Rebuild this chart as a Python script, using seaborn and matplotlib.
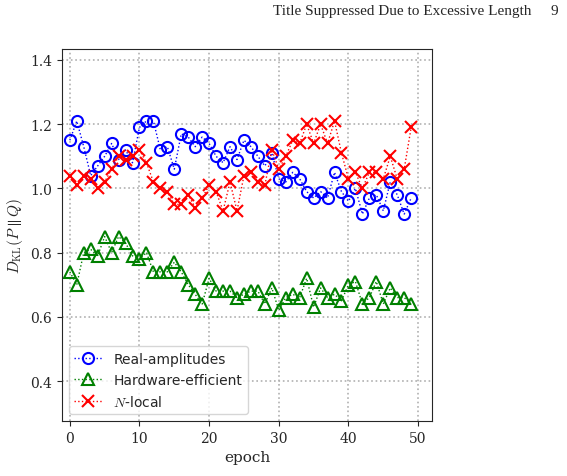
import numpy as np
import pandas as pd
import matplotlib
matplotlib.use("Agg")
import matplotlib.pyplot as plt
import seaborn as sns

# Valores
epochs = list(range(50))
real_amplitudes = [1.15, 1.21, 1.13, 1.04, 1.07, 1.10, 1.14, 1.09, 1.12, 1.08,
                   1.19, 1.21, 1.21, 1.12, 1.13, 1.06, 1.17, 1.16, 1.13, 1.16,
                   1.14, 1.10, 1.08, 1.13, 1.09, 1.15, 1.13, 1.10, 1.07, 1.11,
                   1.03, 1.02, 1.05, 1.03, 0.99, 0.97, 0.99, 0.97, 1.05, 0.99,
                   0.96, 1.00, 0.92, 0.97, 0.98, 0.93, 1.02, 0.98, 0.92, 0.97]
hardware_efficient = [0.74, 0.70, 0.80, 0.81, 0.79, 0.85, 0.80, 0.85, 0.83, 0.79,
                      0.78, 0.80, 0.74, 0.74, 0.74, 0.77, 0.74, 0.70, 0.67, 0.64,
                      0.72, 0.68, 0.68, 0.68, 0.66, 0.67, 0.68, 0.68, 0.64, 0.69,
                      0.62, 0.66, 0.67, 0.66, 0.72, 0.63, 0.69, 0.66, 0.67, 0.65,
                      0.70, 0.71, 0.64, 0.66, 0.71, 0.64, 0.69, 0.66, 0.66, 0.64]
n_local = [1.04, 1.01, 1.04, 1.03, 1.00, 1.02, 1.06, 1.10, 1.09, 1.10,
           1.12, 1.08, 1.02, 1.00, 0.99, 0.95, 0.95, 0.98, 0.94, 0.97,
           1.01, 0.99, 0.93, 1.02, 0.93, 1.04, 1.05, 1.02, 1.01, 1.12,
           1.06, 1.10, 1.15, 1.14, 1.20, 1.14, 1.20, 1.14, 1.21, 1.11,
           1.03, 1.05, 1.00, 1.05, 1.05, 1.03, 1.10, 1.03, 1.06, 1.19]

series = [
    ("Real-amplitudes", real_amplitudes, "blue", "o"),
    ("Hardware-efficient", hardware_efficient, "green", "^"),
    ("$N$-local", n_local, "red", "x"),
]

sns.set_style("ticks")
plt.rcParams["font.family"] = ["DejaVu Serif"]
plt.rcParams["mathtext.fontset"] = "cm"

fig = plt.figure(figsize=(5.67, 4.77), dpi=100)
ax = fig.add_axes([0.109, 0.115, 0.653, 0.78])

for name, vals, color, marker in series:
    df = pd.DataFrame({"epoch": epochs, "kl": vals})
    sns.lineplot(data=df, x="epoch", y="kl", ax=ax, color=color, linestyle=":",
                 linewidth=1, marker=marker, markersize=8, markerfacecolor="none",
                 markeredgecolor=color, markeredgewidth=1.5, label=name)

ax.set_xlim(-1.15, 52)
ax.set_ylim(0.275, 1.434)
ax.set_xticks([0, 10, 20, 30, 40, 50])
ax.set_yticks([0.4, 0.6, 0.8, 1.0, 1.2, 1.4])
ax.grid(True, linestyle=":", color="#b0b0b0", linewidth=1.2)
ax.set_xlabel("epoch", fontsize=11)
ax.set_ylabel(r"$D_{\mathrm{KL}}(P\parallel Q)$", fontsize=11)
ax.tick_params(labelsize=10)
ax.legend(loc="lower left", frameon=True, fancybox=True,
          prop={"family": "DejaVu Sans", "size": 10})

fig.text(0.938, 0.975, "Title Suppressed Due to Excessive Length", ha="right",
         va="center", fontsize=11, family="Liberation Serif")
fig.text(0.985, 0.975, "9", ha="right", va="center", fontsize=11,
         family="Liberation Serif")

fig.savefig("out.png", dpi=100)
